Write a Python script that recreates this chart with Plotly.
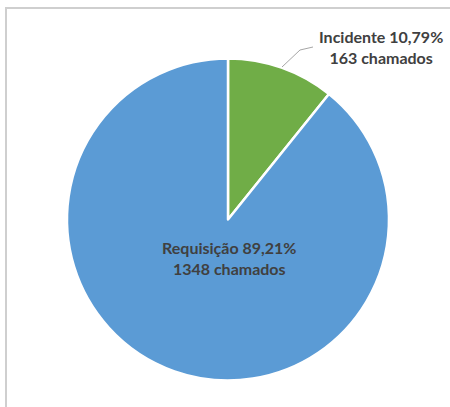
import plotly.graph_objects as go

labels = ["Incidente", "Requisição"]
counts = [163, 1348]
percents = ["10,79%", "89,21%"]
colors = ["#70AD47", "#5B9BD5"]

W, H = 450, 407
cx, cy, r = 228, 219.5, 161

fig = go.Figure(go.Pie(
    labels=labels, values=counts, sort=False, direction="clockwise", rotation=0,
    marker=dict(colors=colors, line=dict(color="white", width=2.5)),
    textinfo="none", hoverinfo="label+value+percent", showlegend=False,
    domain=dict(x=[(cx - r) / W, (cx + r) / W], y=[(H - cy - r) / H, (H - cy + r) / H]),
))

font = dict(family="Lato, Open Sans, sans-serif", size=16, color="#404040")
label_pos = [(381, 47), (229, 258)]
for lab, c, p, (x, y) in zip(labels, counts, percents, label_pos):
    fig.add_annotation(
        x=x / W, y=1 - y / H, xref="paper", yref="paper", showarrow=False,
        text=f"<b>{lab} {p}<br>{c} chamados</b>", font=font, align="center",
        xanchor="center", yanchor="middle",
    )

def px(x, y):
    return f"{x / W},{1 - y / H}"

shapes = [
    dict(type="path", xref="paper", yref="paper",
         path=f"M{px(282, 67)} L{px(300, 50)} L{px(313, 47)}",
         line=dict(color="#a6a6a6", width=1)),
    dict(type="line", xref="paper", yref="paper", x0=5 / W, x1=1, y0=1 - 8 / H, y1=1 - 8 / H,
         line=dict(color="#cfcfcf", width=2)),
    dict(type="line", xref="paper", yref="paper", x0=6 / W, x1=6 / W, y0=0, y1=1 - 8 / H,
         line=dict(color="#cfcfcf", width=2)),
]
fig.update_layout(
    width=W, height=H, margin=dict(l=0, r=0, t=0, b=0),
    paper_bgcolor="white", plot_bgcolor="white", shapes=shapes,
)
fig.write_html("out.html")
